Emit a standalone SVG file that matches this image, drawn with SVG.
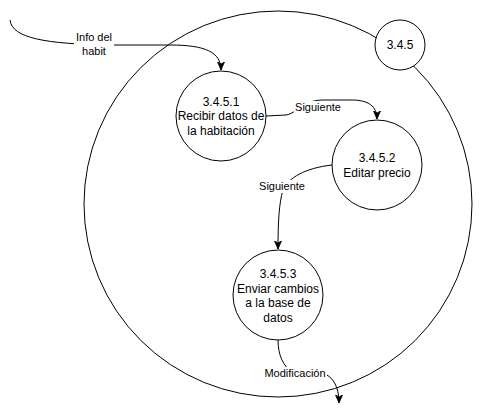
<svg xmlns="http://www.w3.org/2000/svg" width="483" height="415" viewBox="0 0 483 415">
<style>
.n{fill:#fff;stroke:#000;stroke-width:1}
.t{font-family:"Liberation Sans",Arial,sans-serif;font-size:12px;fill:#000;text-anchor:middle}
.l{font-family:"Liberation Sans",Arial,sans-serif;font-size:11px;fill:#000;text-anchor:middle}
.e{fill:none;stroke:#000;stroke-width:1}
.bg{fill:#fff}
</style>
<defs>
<marker id="a" markerWidth="10" markerHeight="10" refX="8" refY="4" orient="auto" markerUnits="userSpaceOnUse">
<path d="M0,0.5 L8,4 L0,7.5 L2,4 Z" fill="#000" stroke="#000" stroke-width="0.8"/>
</marker>
</defs>
<rect width="483" height="415" fill="#fff"/>
<g id="n345outer">
<ellipse cx="278" cy="204" rx="194" ry="193" fill="none" stroke="#000" stroke-width="1"/>
</g>
<g id="connectors">
<path class="e" d="M10,20 C12,38 45,44 110,45 L170,45 C205,45 221,52 221,70" marker-end="url(#a)"/>
<path class="e" d="M266,116 L286,115 C298,113 300,101 322,100 L352,100 C368,100 377,106 377,119" marker-end="url(#a)"/>
<path class="e" d="M332,165 C305,168 288,178 283,190 C279,203 278,222 278,249" marker-end="url(#a)"/>
<path class="e" d="M278,340 C278,355 283,366 293,373 L320,373 C332,374 339,386 339,403" marker-end="url(#a)"/>
<rect class="bg" x="74" y="30" width="40" height="28"/>
<text class="l" x="94" y="41">Info del</text>
<text class="l" x="94" y="55">habit</text>
<rect class="bg" x="294" y="101" width="48" height="13"/>
<text class="l" x="318" y="111">Siguiente</text>
<rect class="bg" x="258" y="180" width="48" height="13"/>
<text class="l" x="282" y="190">Siguiente</text>
<rect class="bg" x="263" y="367" width="64" height="13"/>
<text class="l" x="295" y="377">Modificación</text>
</g>
<g id="n345">
<circle class="n" cx="400" cy="45" r="25"/>
<text class="t" x="400" y="49">3.4.5</text>
</g>
<g id="n3451">
<circle class="n" cx="221" cy="116" r="45"/>
<text class="t" x="221" y="105.5">3.4.5.1</text>
<text class="t" x="221" y="120">Recibir datos de</text>
<text class="t" x="221" y="134.5">la habitación</text>
</g>
<g id="n3452">
<circle class="n" cx="377" cy="165" r="45"/>
<text class="t" x="377" y="162">3.4.5.2</text>
<text class="t" x="377" y="176.5">Editar precio</text>
</g>
<g id="n3453">
<circle class="n" cx="278" cy="295" r="45"/>
<text class="t" x="278" y="278">3.4.5.3</text>
<text class="t" x="278" y="292.5">Enviar cambios</text>
<text class="t" x="278" y="307">a la base de</text>
<text class="t" x="278" y="321.5">datos</text>
</g>
</svg>
